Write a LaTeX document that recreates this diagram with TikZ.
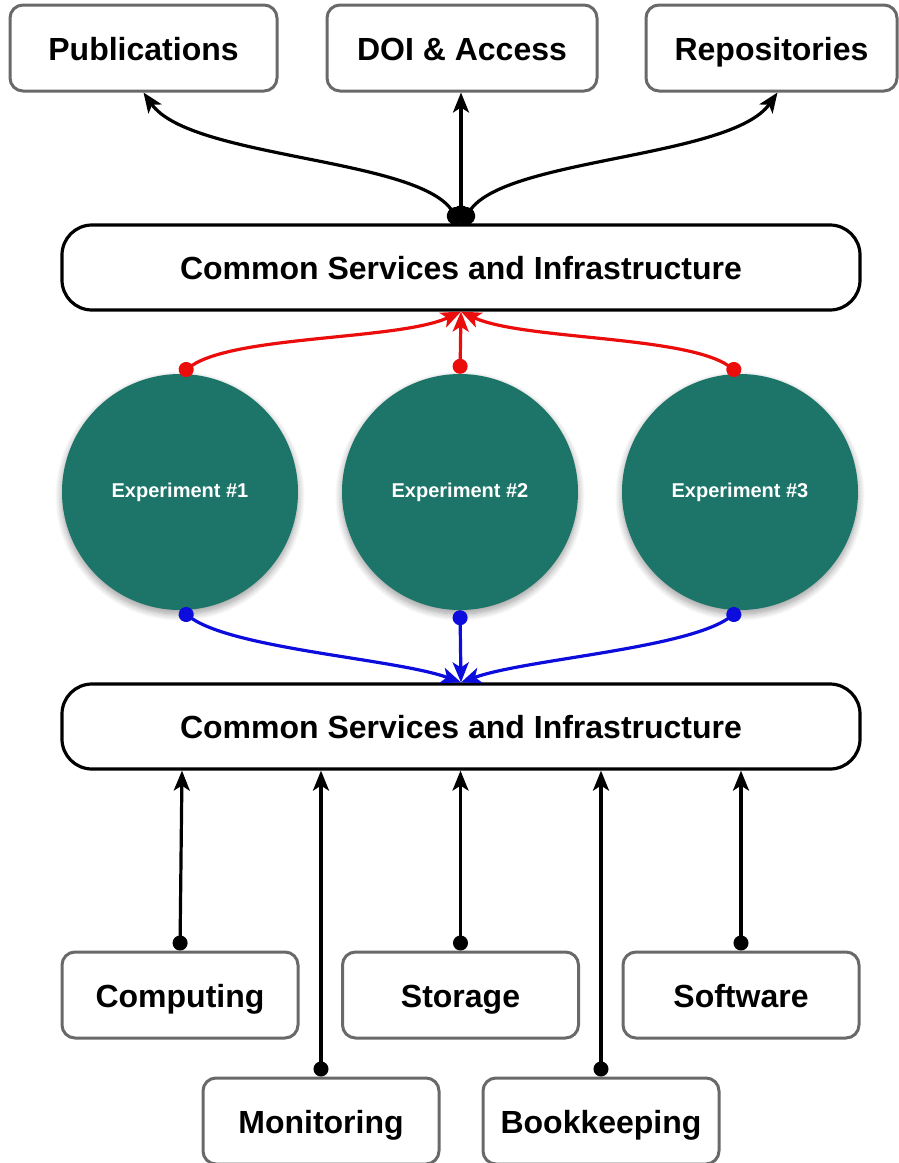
\documentclass[tikz,border=0pt]{standalone}
\usepackage{fontspec}
\setmainfont{Liberation Sans}
\usetikzlibrary{arrows.meta,shadows.blur}
\definecolor{expteal}{RGB}{29,117,106}
\definecolor{boxgray}{RGB}{105,105,105}
\definecolor{upred}{RGB}{235,12,12}
\definecolor{downblue}{RGB}{12,12,220}
\begin{document}
\begin{tikzpicture}[x=1pt,y=1pt]
        \tikzstyle{outbox}=[draw=boxgray,line width=3pt,rounded corners=13pt,minimum height=86pt,text height=25pt,text depth=1pt,font=\fontsize{32}{38}\selectfont\bfseries]
        \tikzstyle{common}=[draw=black,line width=3.2pt,rounded corners=30pt,minimum width=798pt,minimum height=85pt,text height=25pt,text depth=1pt,font=\fontsize{32}{38}\selectfont\bfseries]
        \tikzstyle{experiment}=[circle,fill=expteal,minimum size=236pt,inner sep=0pt,text=white,font=\fontsize{20}{24}\selectfont\bfseries,
          blur shadow={shadow xshift=0pt,shadow yshift=-4pt,shadow blur radius=7pt,shadow blur steps=12,shadow opacity=40}]
        \tikzstyle{flow}=[line width=3.2pt,{Circle[length=15pt,width=15pt]}-{Stealth[length=20pt,width=16pt,inset=5pt]}]
        \tikzstyle{bigflow}=[line width=3.2pt,{Circle[length=18pt,width=18pt]}-{Stealth[length=20pt,width=16pt,inset=5pt]}]
        \tikzstyle{upflow}=[flow,draw=upred]
        \tikzstyle{downflow}=[flow,draw=downblue]
        \useasboundingbox (0,0) rectangle (898,-1163);
        % outputs
        \node [outbox,minimum width=267pt] (pub) at (143.5,-48) {Publications};
        \node [outbox,minimum width=270pt] (doi) at (462,-48) {DOI \& Access};
        \node [outbox,minimum width=251pt] (repo) at (771.5,-48) {Repositories};
        % common layers
        \node [common] (csiTop) at (461,-267.5) {Common Services and Infrastructure};
        \node [common] (csiBot) at (461,-726.5) {Common Services and Infrastructure};
        % experiments
        \node [experiment] (exp1) at (180,-492) {Experiment \#1};
        \node [experiment] (exp2) at (460,-492) {Experiment \#2};
        \node [experiment] (exp3) at (740,-492) {Experiment \#3};
        % resources
        \node [outbox,minimum width=236pt] (comp) at (180,-995) {Computing};
        \node [outbox,minimum width=236pt] (stor) at (460.5,-995) {Storage};
        \node [outbox,minimum width=236pt] (soft) at (741,-995) {Software};
        \node [outbox,minimum width=236pt] (mon) at (321,-1121) {Monitoring};
        \node [outbox,minimum width=236pt] (book) at (601,-1121) {Bookkeeping};
        % top fan out
        \draw[bigflow] (csiTop.north) to [out=125,in=-55,looseness=0.6] (pub.south);
        \draw[bigflow] (csiTop.north) to (csiTop.north |- doi.south);
        \draw[bigflow] (csiTop.north) to [out=55,in=-125,looseness=0.6] ([xshift=6pt]repo.south);
        % experiments up
        \draw[upflow] (exp1.north) to [out=35,in=-155,looseness=0.6] (csiTop.south);
        \draw[upflow] (exp2.north) to (csiTop.south);
        \draw[upflow] (exp3.north) to [out=145,in=-25,looseness=0.6] (csiTop.south);
        % experiments down
        \draw[downflow] (exp1.south) to [out=-35,in=160,looseness=0.6] (csiBot.north);
        \draw[downflow] (exp2.south) to (csiBot.north);
        \draw[downflow] (exp3.south) to [out=-145,in=20,looseness=0.6] (csiBot.north);
        % resources up
        \draw[flow] (comp.north) to ([xshift=2pt]comp.north |- csiBot.south);
        \draw[flow] (mon.north) to (mon.north |- csiBot.south);
        \draw[flow] (stor.north) to (stor.north |- csiBot.south);
        \draw[flow] (book.north) to (book.north |- csiBot.south);
        \draw[flow] (soft.north) to (soft.north |- csiBot.south);
\end{tikzpicture}
\end{document}
